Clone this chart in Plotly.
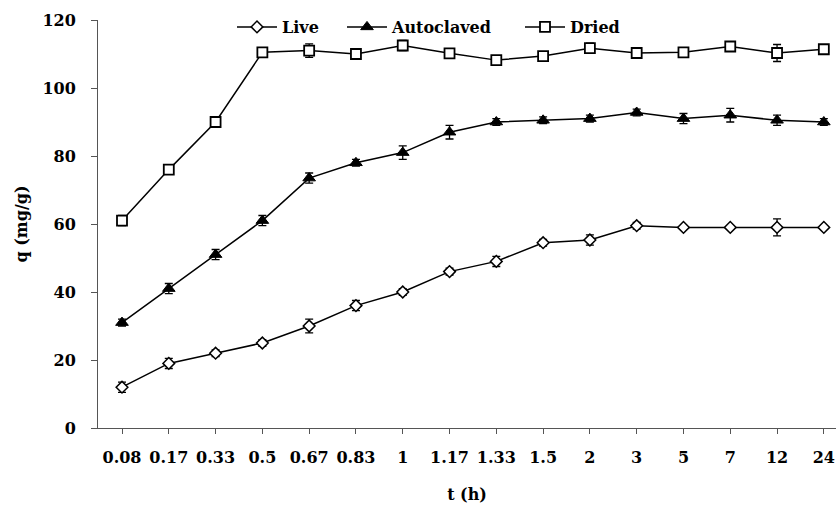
import plotly.graph_objects as go

time_labels = ["0.08", "0.17", "0.33", "0.5", "0.67", "0.83", "1", "1.17",
               "1.33", "1.5", "2", "3", "5", "7", "12", "24"]

live = [12, 19, 22, 25, 30, 36, 40, 46, 49, 54.5, 55.3, 59.5, 59, 59, 59, 59]
live_err = [1.5, 1.5, 1, 1, 2, 1.5, 1, 1, 1.5, 1, 1.5, 1, 0.5, 0.5, 2.5, 0.5]

autoclaved = [31, 41, 51, 61, 73.5, 78, 81, 87, 90, 90.5, 91, 92.8, 91, 92, 90.5, 90]
autoclaved_err = [1, 1.5, 1.5, 1.5, 1.5, 1, 2, 2, 1, 1, 1, 1, 1.5, 2, 1.5, 1]

dried = [61, 76, 90, 110.5, 111, 110, 112.5, 110.2, 108.2, 109.4, 111.7, 110.3, 110.5, 112.2, 110.3, 111.4]
dried_err = [1.5, 0.5, 0.5, 0.5, 2, 1, 1.5, 0.5, 1, 0.5, 1.5, 1, 0.5, 0.5, 2.5, 0.5]

FONT = "DejaVu Serif"
AX = "#555555"
W, H = 837, 509
ML, MR, MT, MB = 98, 1, 20, 81
PW, PH = W - ML - MR, H - MT - MB


def tfont(size=16):
    return dict(family=FONT, size=size, color="black", weight="bold")


fig = go.Figure()

fig.add_trace(go.Scatter(
    x=time_labels, y=live, name="Live", mode="lines+markers", legend="legend",
    line=dict(color="black", width=1.5),
    marker=dict(symbol="diamond", size=9, color="white",
                line=dict(color="black", width=1.5)),
    error_y=dict(type="data", array=live_err, color="black", thickness=1.3, width=4),
))
fig.add_trace(go.Scatter(
    x=time_labels, y=autoclaved, name="Autoclaved", mode="lines+markers", legend="legend2",
    line=dict(color="black", width=1.5),
    marker=dict(symbol="triangle-up", size=11, color="black",
                line=dict(color="black", width=1)),
    error_y=dict(type="data", array=autoclaved_err, color="black", thickness=1.3, width=4),
))
fig.add_trace(go.Scatter(
    x=time_labels, y=dried, name="Dried", mode="lines+markers", legend="legend3",
    line=dict(color="black", width=1.5),
    marker=dict(symbol="square", size=10, color="white",
                line=dict(color="black", width=1.8)),
    error_y=dict(type="data", array=dried_err, color="black", thickness=1.3, width=4),
))


def leg(xpx):
    fx = (xpx - ML) / PW
    fy = 1 - (27 - MT) / PH
    return dict(
        orientation="h", xref="paper", yref="paper",
        x=fx, xanchor="left", y=fy, yanchor="middle",
        bgcolor="rgba(0,0,0,0)", borderwidth=0, itemwidth=40,
        font=tfont(16), itemclick=False, itemdoubleclick=False,
    )


fig.update_layout(
    width=W, height=H,
    margin=dict(l=ML, r=MR, t=MT, b=MB, autoexpand=False),
    paper_bgcolor="white", plot_bgcolor="white",
    font=tfont(16),
    showlegend=True,
    legend=leg(232),
    legend2=leg(342),
    legend3=leg(520),
    xaxis=dict(
        type="category", range=[-0.513, 15.26],
        showline=True, linecolor=AX, linewidth=1,
        ticks="outside", ticklen=5, tickcolor=AX, tickwidth=1,
        showgrid=False, zeroline=False,
        tickfont=tfont(16),
        ticklabelstandoff=10,
        ticklabeloverflow="allow",
        title=dict(text="t (h)", standoff=22, font=tfont(16)),
    ),
    yaxis=dict(
        range=[0, 120], dtick=20,
        showline=True, linecolor=AX, linewidth=1,
        ticks="outside", ticklen=6, tickcolor=AX, tickwidth=1,
        showgrid=False, zeroline=False,
        tickfont=tfont(16),
        ticklabelstandoff=12,
        title=dict(text="q (mg/g)", standoff=10, font=tfont(16)),
    ),
)

fig.write_html(
    "out.html",
    config={"displayModeBar": False},
    post_script="document.body.style.margin='0';document.body.style.overflow='hidden';",
)
